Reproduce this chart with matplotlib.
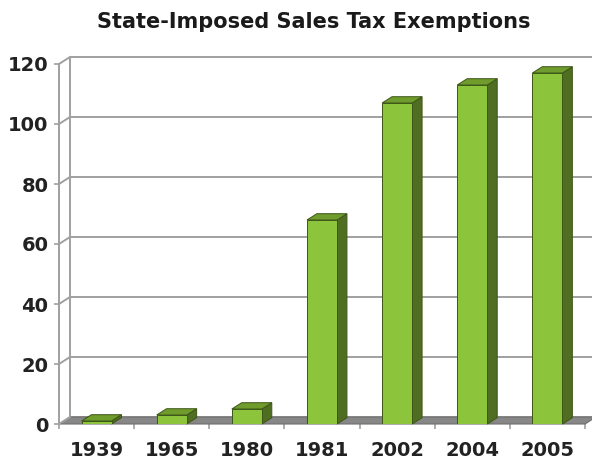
import numpy as np
import matplotlib
matplotlib.use("Agg")
import matplotlib.pyplot as plt
from matplotlib import transforms
from matplotlib.patches import Polygon
from matplotlib.lines import Line2D

years = ["1939", "1965", "1980", "1981", "2002", "2004", "2005"]
exemptions = [1, 3, 5, 68, 107, 113, 117]
y_ticks = [0, 20, 40, 60, 80, 100, 120]

FRONT = "#8cc43c"
SIDE = "#4f6e22"
TOP = "#6f9c2c"
EDGE = "#3d5618"
GRID = "#a0a0a0"
FLOOR = "#878787"

W, H, DPI = 592, 463, 100
DEPTH = np.array([11.0, 7.0])   # pixel offset from the front plane to the back wall
BAR_DEPTH = 0.9
BAR_W = 0.4

fig = plt.figure(figsize=(W / DPI, H / DPI), dpi=DPI)
ax = fig.add_axes([59 / W, (H - 424) / H, (585 - 59) / W, (424 - 64) / H])
n = len(years)
ax.set_xlim(0, n)
ax.set_ylim(0, 120)
ax.patch.set_visible(False)

back = transforms.offset_copy(ax.transData, fig=fig, x=DEPTH[0], y=DEPTH[1], units="dots")
ident = transforms.IdentityTransform()


def disp(x, y, f=0.0):
    return ax.transData.transform((x, y)) + f * DEPTH


# back wall and left wall
ax.hlines(y_ticks, 0, n + 0.3, transform=back, color=GRID, lw=1.4, clip_on=False, zorder=1)
ax.vlines(0, 0, 120, transform=back, color=GRID, lw=1.4, clip_on=False, zorder=1)
for v in y_ticks:
    p0, p1 = disp(0, v), disp(0, v, 1.0)
    fig.add_artist(Line2D([p0[0], p1[0]], [p0[1], p1[1]], transform=ident,
                          color=GRID, lw=1.4, zorder=1))

# floor
floor = [disp(0, 0), disp(n, 0), disp(n, 0, 1.0), disp(0, 0, 1.0)]
ax.add_patch(Polygon(floor, closed=True, transform=ident, facecolor=FLOOR,
                     edgecolor="#6e6e6e", lw=0.8, clip_on=False, zorder=2))

# bars: front faces from the data, then side and top faces
centers = np.arange(n) + 0.5
bars = ax.bar(centers, exemptions, width=BAR_W, color=FRONT, edgecolor=EDGE,
              lw=0.7, zorder=4)
for rect in bars:
    x0, x1 = rect.get_x(), rect.get_x() + rect.get_width()
    v = rect.get_height()
    side = [disp(x1, 0), disp(x1, v), disp(x1, v, BAR_DEPTH), disp(x1, 0, BAR_DEPTH)]
    top = [disp(x0, v), disp(x1, v), disp(x1, v, BAR_DEPTH), disp(x0, v, BAR_DEPTH)]
    ax.add_patch(Polygon(side, closed=True, transform=ident, facecolor=SIDE,
                         edgecolor=EDGE, lw=0.7, clip_on=False, zorder=3))
    ax.add_patch(Polygon(top, closed=True, transform=ident, facecolor=TOP,
                         edgecolor=EDGE, lw=0.7, clip_on=False, zorder=3))

# axes and ticks
for s in ["top", "right", "bottom"]:
    ax.spines[s].set_visible(False)
ax.spines["left"].set_color(GRID)
ax.spines["left"].set_linewidth(1.4)
ax.set_yticks(y_ticks)
ax.set_yticklabels([str(v) for v in y_ticks])
ax.tick_params(axis="y", direction="out", length=3.6, width=1.2, color=GRID,
               labelsize=14, pad=4)
ax.set_xticks(centers)
ax.set_xticklabels(years)
ax.set_xticks(np.arange(n + 1), minor=True)
ax.tick_params(axis="x", which="major", length=0, labelsize=14, pad=12)
ax.tick_params(axis="x", which="minor", direction="out", length=3.6, width=1.2, color=GRID)
for lab in ax.get_xticklabels() + ax.get_yticklabels():
    lab.set_fontweight("bold")
    lab.set_color("#222222")

fig.text(314 / W, 1 - 22 / H, "State-Imposed Sales Tax Exemptions", ha="center",
         va="center", fontsize=15, fontweight="bold", color="#1a1a1a")

fig.savefig("out.png", dpi=DPI, facecolor="white")
